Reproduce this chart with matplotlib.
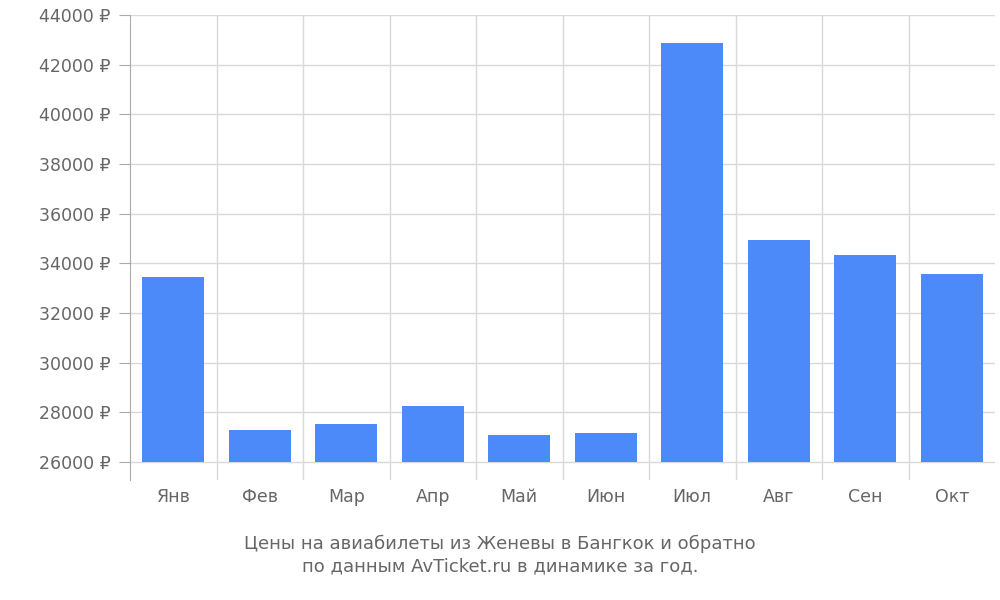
import matplotlib.pyplot as plt

months = ["Янв", "Фев", "Мар", "Апр", "Май", "Июн", "Июл", "Авг", "Сен", "Окт"]
prices = [33450, 27290, 27530, 28250, 27090, 27170, 42870, 34940, 34340, 33570]
base = 26000
yticks = list(range(26000, 44001, 2000))

fig = plt.figure(figsize=(10, 6), dpi=100)
ax = fig.add_axes([0.13, 0.2, 0.865, 0.775])

x = list(range(len(months)))
ax.bar(x, [p - base for p in prices], bottom=base, width=0.72, color="#4d8af9", zorder=3)

ax.set_xlim(-0.5, len(months) - 0.5)
ax.set_ylim(25280, 44000)
ax.set_yticks(yticks)
ax.set_yticklabels([f"{v} ₽" for v in yticks])
ax.set_xticks(x)
ax.set_xticklabels(months)
for b in [i + 0.5 for i in x[:-1]]:
    ax.axvline(b, color="#d9d9d9", lw=1, zorder=1)
ax.grid(axis="y", color="#d9d9d9", lw=1, zorder=1)
ax.tick_params(colors="#666666", labelsize=12.5, length=0, pad=6)
ax.tick_params(axis="y", length=8, color="#aaaaaa")
for s in ["top", "right", "bottom"]:
    ax.spines[s].set_visible(False)
ax.spines["left"].set_color("#aaaaaa")

fig.text(0.5, 0.075, "Цены на авиабилеты из Женевы в Бангкок и обратно\nпо данным AvTicket.ru в динамике за год.",
         ha="center", va="center", fontsize=13, color="#666666", linespacing=1.3)
fig.savefig("out.png")
